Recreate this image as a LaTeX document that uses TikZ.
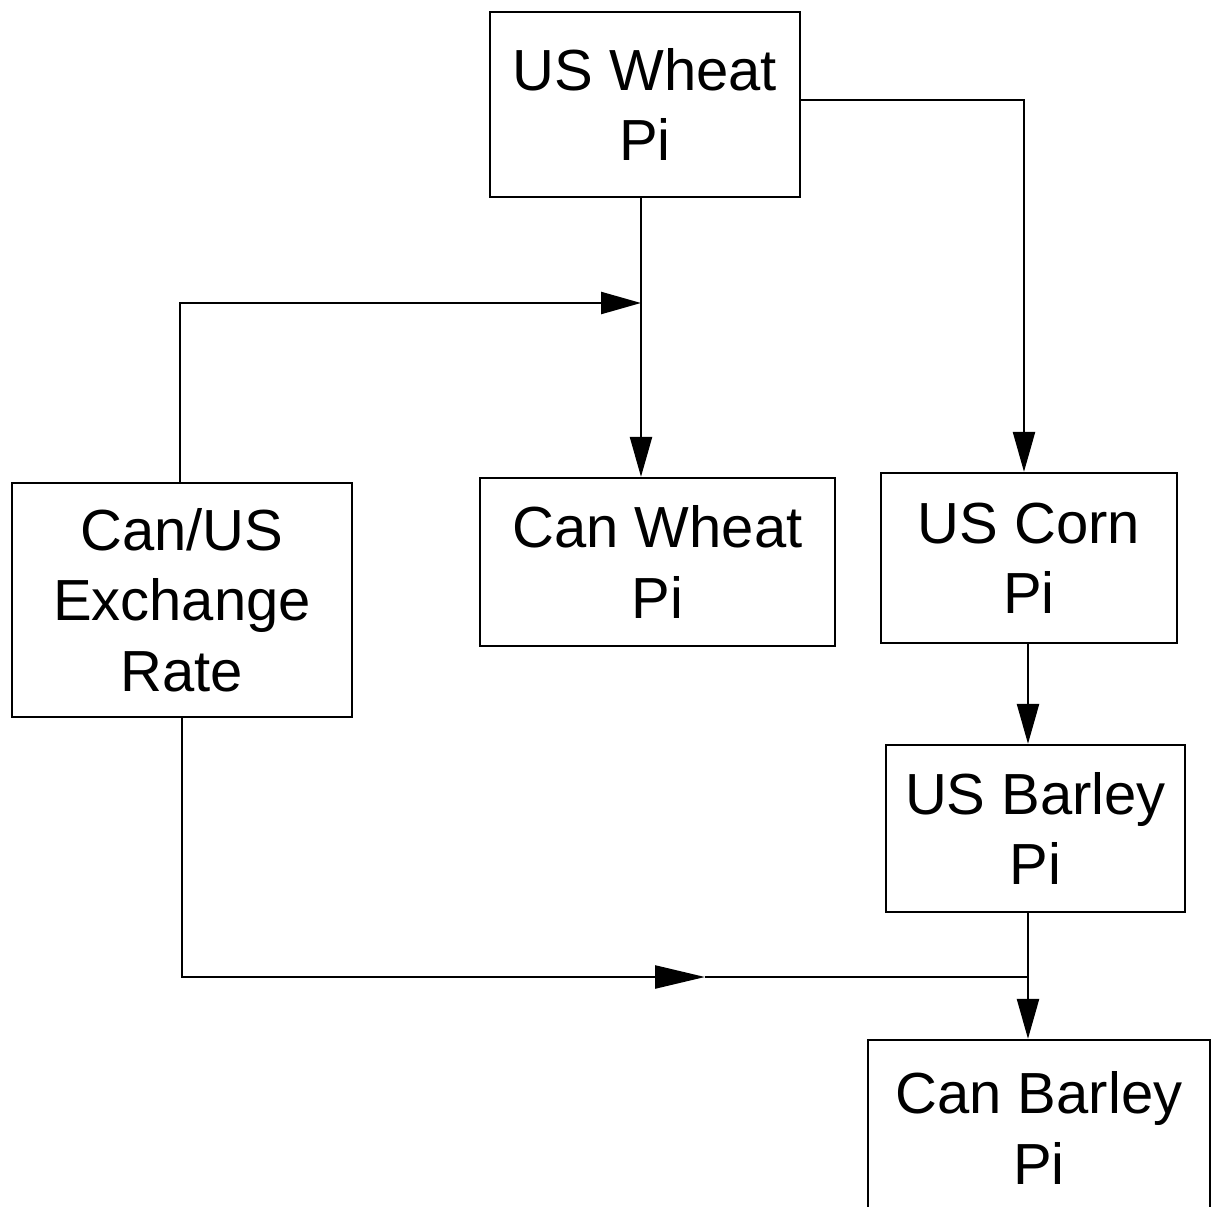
\documentclass[tikz,border=0pt]{standalone}
\usepackage{fontspec}
\setmainfont{Liberation Sans}
\usetikzlibrary{arrows.meta}
\begin{document}
\begin{tikzpicture}[x=0.02cm,y=-0.02cm,
  box/.style={draw,line width=1.3pt,align=center,inner sep=0pt,
    font=\fontsize{33}{40}\selectfont},
  link/.style={line width=1.4pt},
  tip/.style={-{Triangle[length=0.8cm,width=0.44cm]}},
  midtip/.style={-{Triangle[length=1cm,width=0.46cm]}}]
\useasboundingbox (0,0) rectangle (1215,1207);
\clip (0,0) rectangle (1215,1207);
\fill[white] (0,0) rectangle (1215,1207);
\node[box,minimum width=310*0.02cm,minimum height=185*0.02cm] (usw) at (645,104.5) {US Wheat\\Pi};
\node[box,minimum width=355*0.02cm,minimum height=168*0.02cm] (canw) at (657.5,562) {Can Wheat\\Pi};
\node[box,minimum width=296*0.02cm,minimum height=170*0.02cm] (usc) at (1029,558) {US Corn\\Pi};
\node[box,minimum width=340*0.02cm,minimum height=234*0.02cm] (exch) at (182,600) {Can/US\\Exchange\\Rate};
\node[box,minimum width=299*0.02cm,minimum height=167*0.02cm] (usb) at (1035.5,828.5) {US Barley\\Pi};
\node[box,minimum width=342*0.02cm,minimum height=176*0.02cm] (canb) at (1039,1128) {Can Barley\\Pi};
\coordinate (j1) at (641,303);
\coordinate (c1) at (1024,100);
\coordinate (j2) at (1028,977);
\coordinate (m2) at (705,977);
\coordinate (e1) at (180,0);
\coordinate (e2) at (182,0);
\draw[link,tip] (usw.south -| j1) -- (canw.north -| j1);
\draw[link,tip] (exch.north -| e1) |- (j1);
\draw[link,tip] (usw.east |- c1) -| (usc.north -| c1);
\draw[link,tip] (usc.south -| j2) -- (usb.north -| j2);
\draw[link,tip] (usb.south -| j2) -- (canb.north -| j2);
\draw[link,midtip] (exch.south -| e2) |- (m2);
\draw[link] (m2) -- (j2);
\end{tikzpicture}
\end{document}
